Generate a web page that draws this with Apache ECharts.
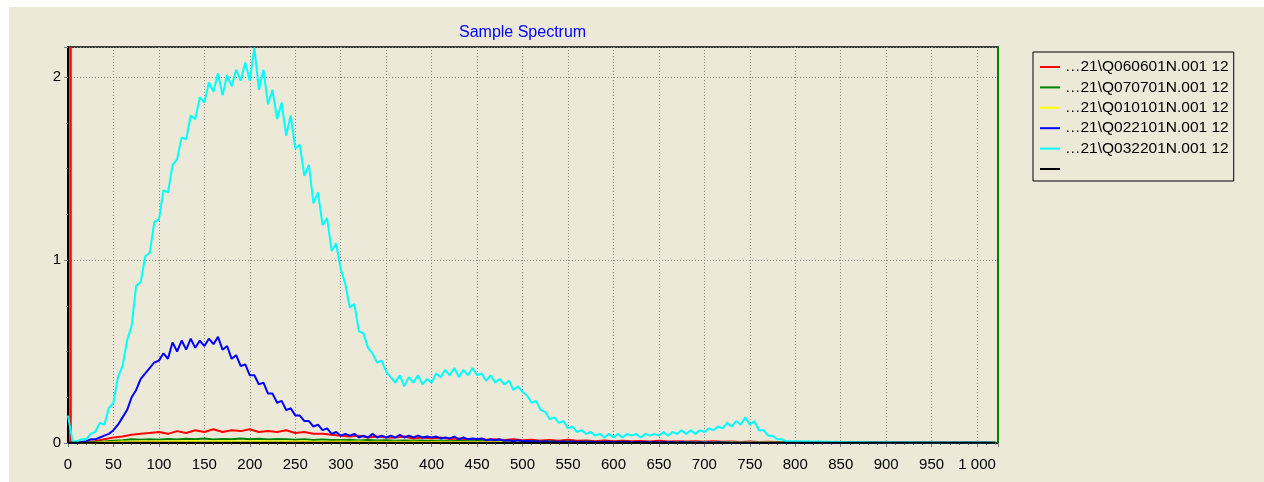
<!DOCTYPE html>
<html>
<head>
<meta charset="utf-8">
<script src="https://cdn.jsdelivr.net/npm/echarts@6/dist/echarts.min.js"></script>
<style>
html,body{margin:0;padding:0;background:#ffffff;width:1264px;height:482px;overflow:hidden;}
#chart{position:absolute;left:9px;top:7px;width:1255px;height:475px;}
</style>
</head>
<body>
<div id="chart"></div>
<script>
// Channel step for each group of series
const stepFine = 5;    // cyan & blue sampled every 5 channels (0..1020)
const stepCoarse = 10; // red, green, yellow, black every 10 channels (0..1020)

const seriesNames = [
  '…21\\Q060601N.001 12',
  '…21\\Q070701N.001 12',
  '…21\\Q010101N.001 12',
  '…21\\Q022101N.001 12',
  '…21\\Q032201N.001 12',
  ' '
];
const seriesColors = ['#FF0000', '#008000', '#FFFF00', '#0000FF', '#00FFFF', '#000000'];

const cyanValues = [
  0.15, 0.01, 0.01, 0.02, 0.02, 0.05, 0.06, 0.11, 0.10, 0.19,
  0.22, 0.36, 0.42, 0.56, 0.64, 0.86, 0.88, 1.02, 1.04, 1.21,
  1.22, 1.38, 1.37, 1.52, 1.55, 1.67, 1.66, 1.79, 1.77, 1.89,
  1.86, 1.97, 1.92, 2.02, 1.90, 2.01, 1.95, 2.04, 1.98, 2.08,
  1.98, 2.16, 1.93, 2.04, 1.85, 1.93, 1.77, 1.86, 1.68, 1.79,
  1.61, 1.63, 1.46, 1.52, 1.31, 1.37, 1.19, 1.23, 1.05, 1.09,
  0.95, 0.87, 0.74, 0.76, 0.61, 0.60, 0.52, 0.49, 0.44, 0.45,
  0.39, 0.36, 0.33, 0.37, 0.31, 0.36, 0.33, 0.37, 0.32, 0.35,
  0.33, 0.38, 0.36, 0.40, 0.37, 0.41, 0.36, 0.40, 0.37, 0.41,
  0.37, 0.38, 0.34, 0.37, 0.33, 0.35, 0.32, 0.34, 0.29, 0.31,
  0.28, 0.26, 0.22, 0.23, 0.18, 0.17, 0.13, 0.14, 0.11, 0.12,
  0.08, 0.09, 0.06, 0.07, 0.05, 0.06, 0.04, 0.05, 0.03, 0.05,
  0.03, 0.05, 0.03, 0.05, 0.04, 0.05, 0.03, 0.05, 0.04, 0.05,
  0.04, 0.06, 0.04, 0.06, 0.05, 0.07, 0.05, 0.07, 0.05, 0.07,
  0.06, 0.08, 0.07, 0.09, 0.08, 0.11, 0.09, 0.12, 0.10, 0.14,
  0.10, 0.12, 0.07, 0.07, 0.04, 0.04, 0.02, 0.02, 0.01, 0.01,
  0.01, 0.01, 0.008, 0.01, 0.007, 0.009, 0.006, 0.008, 0.006, 0.007,
  0.005, 0.006, 0.004, 0.005, 0.004, 0.005, 0.004, 0.004, 0.003, 0.004,
  0.003, 0.004, 0.003, 0.003, 0.003, 0.004, 0.003, 0.003, 0.003, 0.003,
  0.003, 0.003, 0.002, 0.003, 0.003, 0.002, 0.003, 0.003, 0.002, 0.003,
  0.003, 0.002, 0.003, 0.003, 0.002
];

const blueValues = [
  0.00, 0.00, 0.00, 0.005, 0.01, 0.02, 0.02, 0.03, 0.04, 0.05,
  0.07, 0.10, 0.14, 0.18, 0.25, 0.29, 0.35, 0.38, 0.41, 0.44,
  0.45, 0.49, 0.46, 0.55, 0.50, 0.56, 0.51, 0.57, 0.52, 0.56,
  0.53, 0.57, 0.54, 0.58, 0.51, 0.53, 0.46, 0.48, 0.42, 0.43,
  0.37, 0.37, 0.32, 0.33, 0.27, 0.27, 0.22, 0.23, 0.18, 0.19,
  0.15, 0.15, 0.12, 0.12, 0.09, 0.10, 0.07, 0.08, 0.05, 0.06,
  0.04, 0.05, 0.04, 0.05, 0.03, 0.04, 0.03, 0.05, 0.03, 0.04,
  0.03, 0.04, 0.03, 0.045, 0.03, 0.04, 0.03, 0.04, 0.03, 0.035,
  0.03, 0.035, 0.025, 0.03, 0.025, 0.035, 0.02, 0.03, 0.02, 0.025,
  0.02, 0.025, 0.015, 0.02, 0.015, 0.02, 0.012, 0.015, 0.01, 0.015,
  0.01, 0.012, 0.008, 0.01, 0.007, 0.009, 0.006, 0.008, 0.006, 0.008,
  0.006, 0.008, 0.005, 0.007, 0.005, 0.007, 0.005, 0.006, 0.005, 0.007,
  0.005, 0.006, 0.005, 0.007, 0.004, 0.006, 0.005, 0.006, 0.004, 0.006,
  0.004, 0.005, 0.004, 0.005, 0.003, 0.005, 0.003, 0.004, 0.003, 0.004,
  0.003, 0.004, 0.003, 0.004, 0.003, 0.003, 0.002, 0.003, 0.002, 0.003,
  0.002, 0.003, 0.002, 0.002, 0.002, 0.002, 0.002, 0.002, 0.001, 0.002,
  0.001, 0.001, 0.001, 0.001, 0.001, 0.001, 0.001, 0.001, 0.001, 0.001,
  0.001, 0.001, 0.001, 0.001, 0.001, 0.001, 0.001, 0.001, 0.001, 0.001,
  0.001, 0.001, 0.001, 0.001, 0.001, 0.001, 0.001, 0.001, 0.001, 0.001,
  0.001, 0.001, 0.001, 0.001, 0.001, 0.001, 0.001, 0.001, 0.001, 0.001,
  0.001, 0.001, 0.001, 0.001, 0.001
];

const redValues = [
  0.00, 0.00, 0.005, 0.01, 0.02, 0.03, 0.035, 0.045, 0.05, 0.055,
  0.06, 0.05, 0.065, 0.055, 0.07, 0.06, 0.075, 0.06, 0.07, 0.065,
  0.075, 0.06, 0.065, 0.06, 0.07, 0.055, 0.06, 0.05, 0.05, 0.045,
  0.04, 0.035, 0.04, 0.03, 0.035, 0.03, 0.03, 0.035, 0.025, 0.03,
  0.025, 0.03, 0.022, 0.025, 0.02, 0.022, 0.018, 0.02, 0.016, 0.02,
  0.015, 0.018, 0.013, 0.016, 0.012, 0.018, 0.012, 0.014, 0.01, 0.013,
  0.01, 0.012, 0.009, 0.011, 0.008, 0.012, 0.008, 0.01, 0.008, 0.009,
  0.007, 0.009, 0.007, 0.008, 0.006, 0.008, 0.006, 0.007, 0.005, 0.006,
  0.005, 0.004, 0.004, 0.003, 0.004, 0.003, 0.003, 0.003, 0.004, 0.002,
  0.002, 0.002, 0.002, 0.002, 0.002, 0.002, 0.002, 0.002, 0.002, 0.002,
  0.002, 0.002, 0.002
];

const greenValues = [
  0.00, 0.00, 0.002, 0.005, 0.008, 0.012, 0.015, 0.02, 0.018, 0.02,
  0.018, 0.022, 0.019, 0.023, 0.02, 0.024, 0.019, 0.022, 0.02, 0.025,
  0.02, 0.023, 0.019, 0.022, 0.02, 0.018, 0.02, 0.017, 0.019, 0.016,
  0.016, 0.018, 0.014, 0.016, 0.013, 0.015, 0.012, 0.014, 0.012, 0.013,
  0.011, 0.013, 0.01, 0.012, 0.01, 0.011, 0.009, 0.011, 0.008, 0.01,
  0.008, 0.009, 0.007, 0.009, 0.007, 0.008, 0.006, 0.008, 0.006, 0.007,
  0.006, 0.007, 0.005, 0.006, 0.005, 0.006, 0.004, 0.006, 0.004, 0.005,
  0.004, 0.005, 0.004, 0.005, 0.003, 0.004, 0.003, 0.004, 0.003, 0.003,
  0.003, 0.002, 0.002, 0.002, 0.002, 0.002, 0.002, 0.002, 0.002, 0.002,
  0.002, 0.001, 0.001, 0.001, 0.001, 0.001, 0.001, 0.002, 0.001, 0.001,
  0.001, 0.001, 0.001
];

const yellowValues = [
  0.00, 0.00, 0.002, 0.003, 0.005, 0.006, 0.008, 0.007, 0.009, 0.008,
  0.01, 0.008, 0.01, 0.009, 0.011, 0.008, 0.01, 0.009, 0.01, 0.008,
  0.01, 0.009, 0.01, 0.008, 0.009, 0.008, 0.009, 0.007, 0.008, 0.007,
  0.008, 0.007, 0.008, 0.006, 0.007, 0.006, 0.007, 0.006, 0.007, 0.006,
  0.006, 0.007, 0.006, 0.006, 0.005, 0.006, 0.005, 0.006, 0.005, 0.006,
  0.005, 0.005, 0.004, 0.005, 0.004, 0.005, 0.004, 0.005, 0.004, 0.005,
  0.004, 0.005, 0.004, 0.004, 0.004, 0.005, 0.004, 0.004, 0.003, 0.004,
  0.004, 0.005, 0.004, 0.005, 0.004, 0.005, 0.004, 0.004, 0.003, 0.004,
  0.003, 0.003, 0.002, 0.003, 0.002, 0.002, 0.002, 0.002, 0.002, 0.002,
  0.001, 0.001, 0.001, 0.001, 0.001, 0.001, 0.001, 0.001, 0.001, 0.001,
  0.001, 0.001, 0.001
];

const blackValues = [
  0.002, 0.002, 0.002, 0.002, 0.002, 0.002, 0.002, 0.002, 0.002, 0.002,
  0.002, 0.002, 0.002, 0.002, 0.002, 0.002, 0.002, 0.002, 0.002, 0.002,
  0.002, 0.002, 0.002, 0.002, 0.002, 0.002, 0.002, 0.002, 0.002, 0.002,
  0.002, 0.002, 0.002, 0.002, 0.002, 0.002, 0.002, 0.002, 0.002, 0.002,
  0.002, 0.002, 0.002, 0.002, 0.002, 0.002, 0.002, 0.002, 0.002, 0.002,
  0.002, 0.002, 0.002, 0.002, 0.002, 0.002, 0.002, 0.002, 0.002, 0.002,
  0.002, 0.002, 0.002, 0.002, 0.002, 0.002, 0.002, 0.002, 0.002, 0.002,
  0.002, 0.002, 0.002, 0.002, 0.002, 0.002, 0.002, 0.002, 0.002, 0.002,
  0.002, 0.002, 0.002, 0.002, 0.002, 0.002, 0.002, 0.002, 0.002, 0.002,
  0.002, 0.002, 0.002, 0.002, 0.002, 0.002, 0.002, 0.002, 0.002, 0.002,
  0.002, 0.002, 0.002
];

// Marker cursors (channels)
const redMarkerChannel = 3;
const greenMarkerChannel = 1023;

const xMin = 0, xMax = 1023, xInterval = 50;
const yMin = 0, yMax = 2.164, yInterval = 1;

function pairs(values, step) {
  return values.map((v, i) => [i * step, v]);
}

const valueSets = [
  pairs(redValues, stepCoarse),
  pairs(greenValues, stepCoarse),
  pairs(yellowValues, stepCoarse),
  pairs(blueValues, stepFine),
  pairs(cyanValues, stepFine),
  pairs(blackValues, stepCoarse)
];

const FONT = '"Liberation Sans", Arial, sans-serif';

const series = seriesNames.map((name, i) => {
  const s = {
    name: name,
    type: 'line',
    data: valueSets[i],
    showSymbol: false,
    symbol: 'none',
    lineStyle: { color: seriesColors[i], width: 2 },
    itemStyle: { color: seriesColors[i] },
    animation: false,
    z: 2 + i
  };
  if (i === 0) {
    s.markLine = {
      silent: true, symbol: ['none', 'none'], label: { show: false },
      lineStyle: { color: '#FF0000', width: 2.5, type: 'solid' },
      data: [{ xAxis: redMarkerChannel }], animation: false
    };
  }
  if (i === 1) {
    s.markLine = {
      silent: true, symbol: ['none', 'none'], label: { show: false },
      lineStyle: { color: '#008000', width: 2, type: 'solid' },
      data: [{ xAxis: greenMarkerChannel }], animation: false
    };
  }
  return s;
});

const chart = echarts.init(document.getElementById('chart'), null, { renderer: 'canvas' });
chart.setOption({
  backgroundColor: '#ECE9D8',
  animation: false,
  title: {
    text: 'Sample Spectrum',
    left: 445, top: 13,
    textStyle: { color: '#0000FF', fontSize: 16, fontWeight: 'normal', fontFamily: FONT }
  },
  legend: {
    orient: 'vertical',
    left: 1024, top: 45,
    padding: [7, 5, 4, 7],
    backgroundColor: '#ECE9D8',
    borderColor: '#000000', borderWidth: 1,
    icon: 'rect',
    itemWidth: 20, itemHeight: 2,
    itemGap: 4.4,
    textStyle: { color: '#000000', fontSize: 15.5, fontFamily: FONT, lineHeight: 14 },
    data: seriesNames.map((n, i) => ({ name: n, itemStyle: { color: seriesColors[i] } })),
    selectedMode: false
  },
  grid: {
    left: 59, top: 40, width: 930, height: 396,
    show: true, borderColor: '#000000', borderWidth: 1.5,
    backgroundColor: 'transparent'
  },
  xAxis: {
    type: 'value', min: xMin, max: xMax, interval: xInterval,
    axisLine: { show: true, lineStyle: { color: '#000000', width: 1 } },
    axisTick: { show: true, length: 4, lineStyle: { color: '#808080' } },
    minorTick: { show: true, splitNumber: 5, length: 2, lineStyle: { color: '#808080' } },
    splitLine: { show: true, lineStyle: { color: '#8a8a8a', type: [1, 2], width: 1 } },
    axisLabel: {
      color: '#000000', fontSize: 15, fontFamily: FONT, margin: 14,
      showMaxLabel: false,
      formatter: v => (v % 50 === 0 ? (v >= 1000 ? String(v).replace(/(\d)(\d{3})$/, '$1 $2') : String(v)) : '')
    }
  },
  yAxis: {
    type: 'value', min: yMin, max: yMax, interval: yInterval,
    axisLine: { show: true, lineStyle: { color: '#000000', width: 2 } },
    axisTick: { show: true, length: 4, lineStyle: { color: '#808080' } },
    minorTick: { show: true, splitNumber: 4, length: 2, lineStyle: { color: '#808080' } },
    splitLine: { show: true, lineStyle: { color: '#8a8a8a', type: [1, 2], width: 1 } },
    axisLabel: {
      color: '#000000', fontSize: 15, fontFamily: FONT, margin: 7,
      showMaxLabel: false,
      formatter: v => (Number.isInteger(v) ? String(v) : '')
    }
  },
  series: series
});
</script>
</body>
</html>
